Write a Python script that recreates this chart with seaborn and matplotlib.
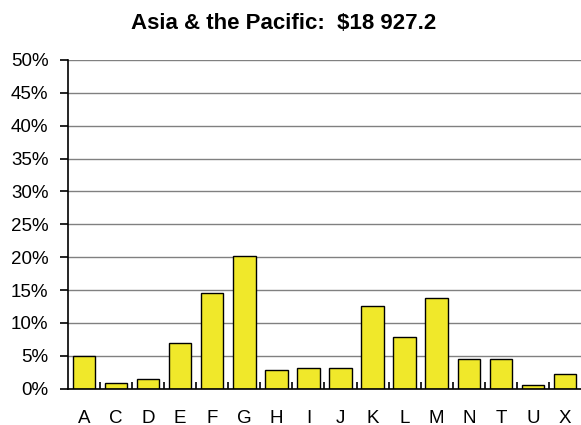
import pandas as pd
import numpy as np
import matplotlib
matplotlib.use("Agg")
import matplotlib.pyplot as plt
import seaborn as sns
from matplotlib.ticker import FixedLocator, PercentFormatter

categories = ["A", "C", "D", "E", "F", "G", "H", "I", "J", "K", "L", "M", "N", "T", "U", "X"]
shares = [4.9, 0.8, 1.5, 6.9, 14.5, 20.2, 2.9, 3.2, 3.2, 12.6, 7.9, 13.8, 4.5, 4.5, 0.5, 2.2]
title = "Asia & the Pacific:  $18 927.2"

df = pd.DataFrame({"Category": categories, "Share": shares})

sns.set_theme(style="white")
plt.rcParams["font.family"] = ["Liberation Sans", "DejaVu Sans"]
plt.rcParams["text.color"] = "black"

fig = plt.figure(figsize=(5.81, 4.25), dpi=100)
ax = fig.add_axes([0.117, 0.0854, 0.883, 0.7736])

sns.barplot(x="Category", y="Share", data=df, color="#F0E82A", saturation=1,
            edgecolor="black", linewidth=1, width=0.7, ax=ax)

ax.set_ylim(0, 50)
ax.set_xlim(-0.5, len(categories) - 0.5)
ax.set_yticks(np.arange(0, 51, 5))
ax.yaxis.set_major_formatter(PercentFormatter(decimals=0))
ax.yaxis.grid(True, color="#808080", linewidth=1)
ax.set_axisbelow(True)

ax.set_xlabel("")
ax.set_ylabel("")
for side in ["top", "right"]:
    ax.spines[side].set_visible(False)
for side in ["left", "bottom"]:
    ax.spines[side].set_color("black")
    ax.spines[side].set_linewidth(1.2)

ax.tick_params(axis="y", which="major", left=True, length=6, width=1.2, color="black",
               labelsize=13.5, pad=8, labelcolor="black")
ax.tick_params(axis="x", which="major", bottom=True, length=0, labelsize=13.5,
               pad=15, labelcolor="black")
ax.xaxis.set_minor_locator(FixedLocator(np.arange(0.5, len(categories) - 0.5, 1)))
ax.tick_params(axis="x", which="minor", bottom=True, direction="in", length=5,
               width=1.2, color="black")

fig.suptitle(title, x=0.488, y=0.944, va="center", fontsize=16, fontweight="bold",
             color="black")

fig.savefig("out.png", dpi=100)
